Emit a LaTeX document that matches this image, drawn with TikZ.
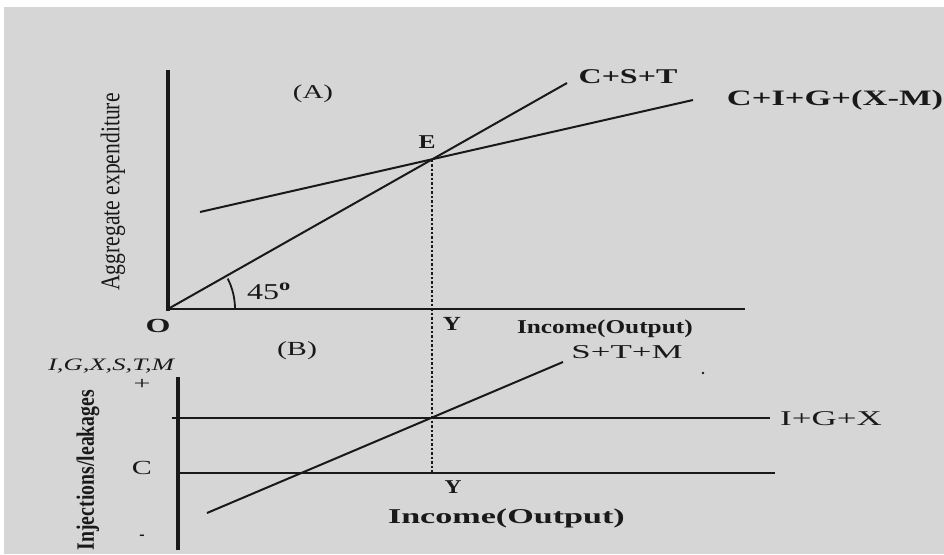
\documentclass[tikz,border=0pt]{standalone}
\usepackage{fontspec}
\setmainfont{Liberation Serif}
\usepackage{graphicx}
\definecolor{bg}{RGB}{214,214,214}
\definecolor{ink}{RGB}{25,25,25}
\newcommand{\sxy}[3]{\scalebox{#1}[#2]{#3}}
\begin{document}
\begin{tikzpicture}[x=1pt,y=-1pt,
  lbl/.style={inner sep=0pt,outer sep=0pt,text=ink,font=\fontsize{10}{12}\selectfont},
  axisline/.style={draw=ink,line width=3.5pt},
  baseline/.style={draw=ink,line width=2.4pt},
  curve/.style={draw=ink,line width=2pt},
  guide/.style={draw=ink,line width=2.2pt,dash pattern=on 2.5pt off 2pt}]
\useasboundingbox (0,0) rectangle (944,554);
\fill[white] (0,0) rectangle (944,554);
\fill[bg] (4,7) rectangle (944,554);

% ---------- panel A ----------
\coordinate (O) at (168,309);
\coordinate (Atop) at (168,70);
\coordinate (Aright) at (745,309);
\coordinate (CSTend) at (567,83);
\coordinate (AEstart) at (200,212);
\coordinate (AEend) at (693,100);
\coordinate (Ept) at (432,159.5);
\coordinate (Ylow) at (432,473);
\path[axisline] (168,311) -- (Atop);
\path[baseline] (O) -- (Aright);
\path[curve] (O) -- (CSTend);
\path[curve] (AEstart) -- (AEend);
\path[guide] (Ept) -- (Ylow);
\draw[ink,line width=1.8pt] (O) ++(67,0) arc[start angle=0,end angle=27,radius=67pt];

\node[lbl,anchor=base] (labA) at (313,98) {\sxy{2.9}{1.96}{(A)}};
\node[lbl,anchor=base] (labCST) at (628,83) {\sxy{3.2}{2.1}{\bfseries C+S+T}};
\node[lbl,anchor=base] (labAE) at (835,105) {\sxy{3.45}{2.2}{\bfseries C+I+G+(X-M)}};
\node[lbl,anchor=base] (labE) at (427,148) {\sxy{2.55}{1.96}{\bfseries E}};
\node[lbl,anchor=base west] (lab45) at (247,299) {\sxy{3.2}{2.27}{45\textsuperscript{\bfseries o}}};
\node[lbl,anchor=base] (labO) at (158,332) {\sxy{3.2}{2.0}{\bfseries O}};
\node[lbl,anchor=base] (labY1) at (452,330) {\sxy{2.5}{2.0}{\bfseries Y}};
\node[lbl,anchor=base west] (labInc1) at (517,333) {\sxy{2.53}{1.96}{\bfseries Income(Output)}};
\node[lbl,rotate=90] (labAgg) at (113,192) {\sxy{2.16}{2.7}{Aggregate expenditure}};

% ---------- panel B ----------
\coordinate (Btop) at (178,377);
\coordinate (Bbot) at (178,550);
\coordinate (IGXl) at (172,418);
\coordinate (IGXr) at (770,418);
\coordinate (Zl) at (178,473);
\coordinate (Zr) at (775,473);
\coordinate (STMs) at (207,513);
\coordinate (STMe) at (563,362);
\path[axisline] (Btop) -- (Bbot);
\path[baseline] (IGXl) -- (IGXr);
\path[baseline] (Zl) -- (Zr);
\path[curve] (STMs) -- (STMe);
\fill[ink] (703,373) circle (1.3);

\node[lbl,anchor=base] (labB) at (297,355) {\sxy{3.0}{2.0}{(B)}};
\node[lbl,anchor=base] (labVars) at (111,370) {\sxy{2.66}{1.75}{\itshape I,G,X,S,T,M}};
\node[lbl] (labPlus) at (142,384) {\sxy{3}{1.8}{+}};
\node[lbl] (labC) at (142,468) {\sxy{3}{2}{C}};
\node[lbl] (labMinus) at (142,538) {\sxy{1.6}{2}{-}};
\node[lbl,anchor=base] (labSTM) at (627,358) {\sxy{3.49}{1.96}{S+T+M}};
\node[lbl,anchor=base] (labIGX) at (831,425) {\sxy{3.5}{2.1}{I+G+X}};
\node[lbl,anchor=base] (labY2) at (453,493) {\sxy{2.35}{1.96}{\bfseries Y}};
\node[lbl,anchor=base west] (labInc2) at (388,523) {\sxy{3.41}{2.11}{\bfseries Income(Output)}};
\node[lbl,rotate=90] (labInj) at (88,470) {\sxy{1.98}{2.5}{\bfseries Injections/leakages}};
\end{tikzpicture}
\end{document}
